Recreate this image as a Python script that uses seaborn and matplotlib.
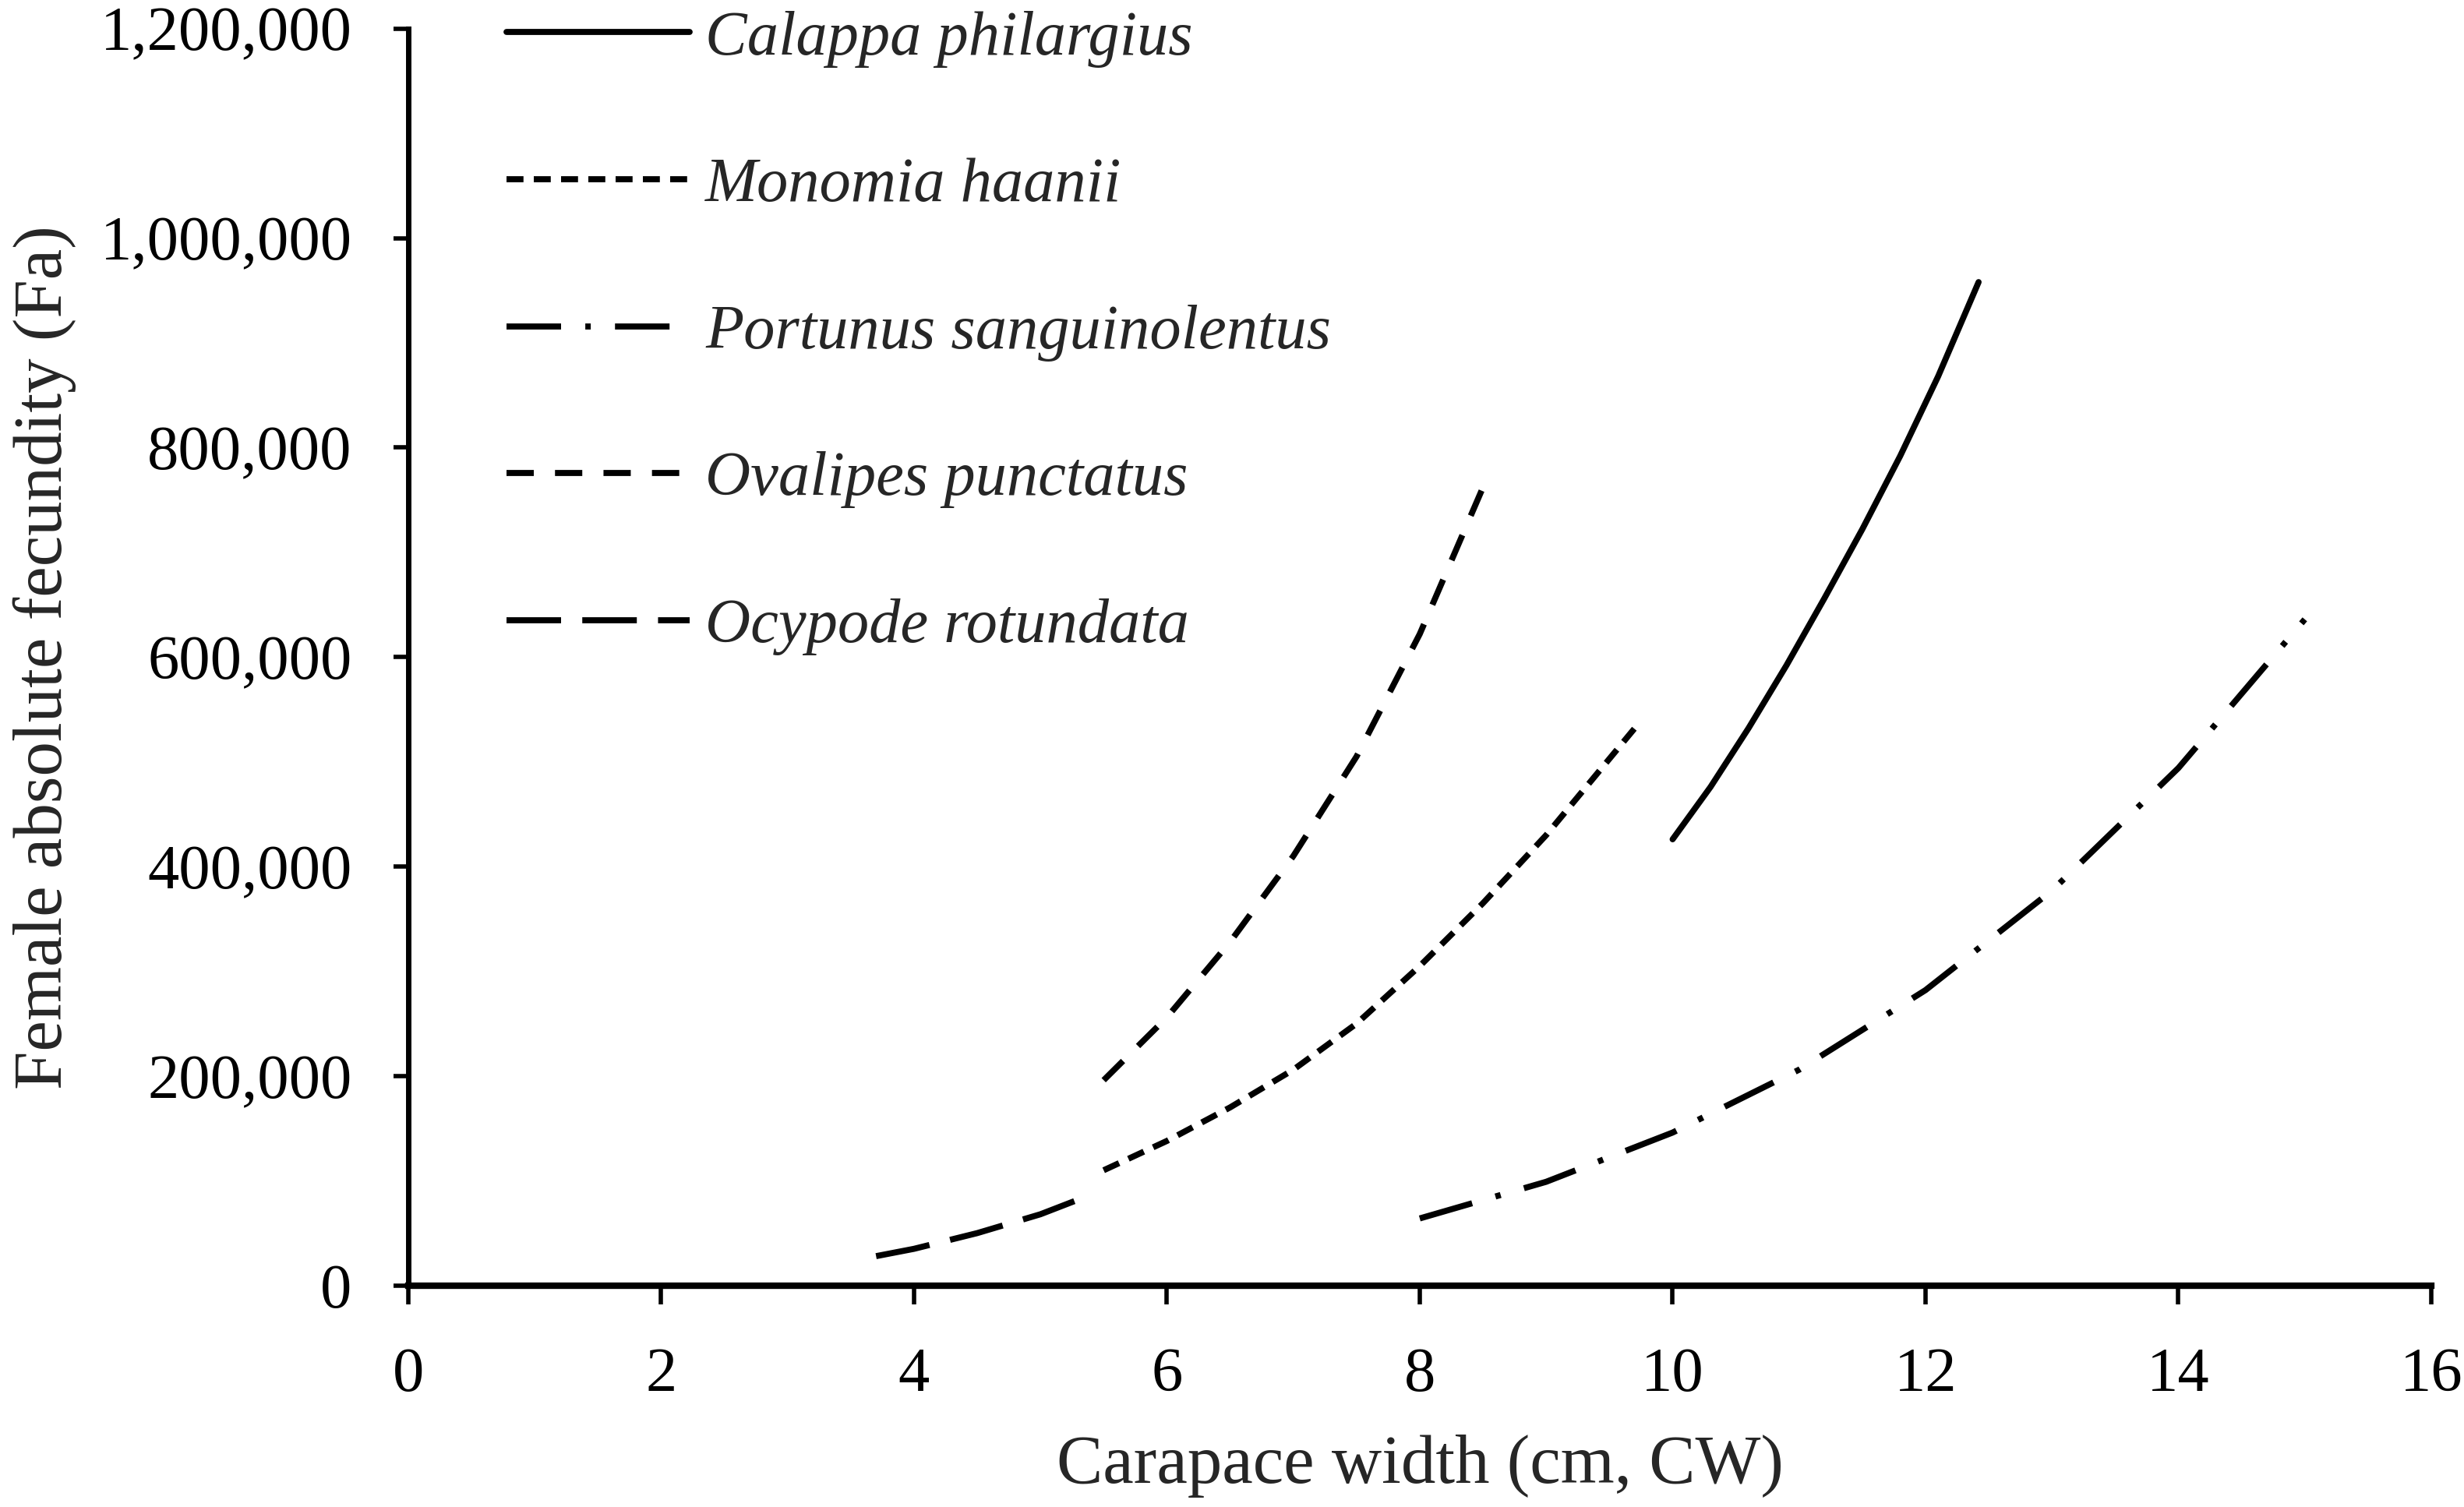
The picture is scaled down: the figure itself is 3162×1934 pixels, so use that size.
import pandas as pd
import matplotlib
matplotlib.use("Agg")
import matplotlib.pyplot as plt
import matplotlib.ticker as mticker
import seaborn as sns

# values (CW in cm, fecundity in eggs)
calappa_cw = [10.0, 10.3, 10.6, 10.9, 11.2, 11.5, 11.8, 12.1, 12.42]
calappa_fa = [426000, 476000, 532000, 592000, 656000, 722000, 792000, 868000, 958000]

monomia_cw = [5.5, 6.0, 6.5, 7.0, 7.5, 8.0, 8.5, 9.0, 9.7]
monomia_fa = [110000, 138000, 170000, 206000, 250000, 305000, 365000, 430000, 532000]

portunus_cw = [8.0, 9.0, 10.0, 11.0, 12.0, 13.0, 14.0, 15.0]
portunus_fa = [64000, 99000, 146000, 206000, 282000, 377000, 494000, 636000]

ovalipes_cw = [5.5, 6.0, 6.5, 7.0, 7.5, 8.0, 8.5]
ovalipes_fa = [196000, 256000, 328000, 410000, 505000, 622000, 762000]

ocypode_cw = [3.7, 4.0, 4.5, 5.0, 5.3]
ocypode_fa = [28000, 35000, 50000, 68000, 82000]

species = ["Calappa philargius", "Monomia haanii", "Portunus sanguinolentus",
           "Ovalipes punctatus", "Ocypode rotundata"]

frames = []
for name, cw, fa in zip(species,
                        [calappa_cw, monomia_cw, portunus_cw, ovalipes_cw, ocypode_cw],
                        [calappa_fa, monomia_fa, portunus_fa, ovalipes_fa, ocypode_fa]):
    frames.append(pd.DataFrame({"cw": cw, "fa": fa, "species": name}))
df = pd.concat(frames, ignore_index=True)

sns.set_style("white")
plt.rcParams['font.family'] = ['Liberation Serif', 'DejaVu Serif']

LW = 2.8
dash_map = {
    "Calappa philargius": "",
    "Monomia haanii": (2.8, 1.7),
    "Portunus sanguinolentus": (9.0, 4.0, 0.9, 4.0),
    "Ovalipes punctatus": (4.5, 3.5),
    "Ocypode rotundata": (9.0, 3.5),
}

fig = plt.figure(figsize=(15.81, 9.67), dpi=200)
ax = fig.add_axes([0.1657, 0.147, 0.8210, 0.834])

sns.lineplot(data=df, x="cw", y="fa", hue="species", style="species",
             hue_order=species, style_order=species,
             palette=["black"] * 5, dashes=dash_map, linewidth=LW,
             estimator=None, sort=True, ax=ax)

ax.set_xlim(0, 16)
ax.set_ylim(0, 1200000)
ax.set_xticks(range(0, 17, 2))
ax.set_yticks(range(0, 1200001, 200000))
ax.yaxis.set_major_formatter(mticker.FuncFormatter(lambda v, p: f"{int(v):,}"))

for s in ["top", "right"]:
    ax.spines[s].set_visible(False)
ax.spines["left"].set_linewidth(2.5)
ax.spines["bottom"].set_linewidth(3.0)
ax.spines["left"].set_color("black")
ax.spines["bottom"].set_color("black")

ax.tick_params(axis="x", direction="out", length=8.5, width=2.0, pad=20,
               labelsize=29, colors="black", bottom=True)
ax.tick_params(axis="y", direction="out", length=7, width=2.0, pad=19,
               labelsize=29, colors="black", left=True)

ax.set_xlabel("Carapace width (cm, CW)", fontsize=32, labelpad=14)
ax.set_ylabel("Female absolute fecundity (Fa)", fontsize=32)
ax.yaxis.set_label_coords(-0.164, 0.5)

handles, labels = ax.get_legend_handles_labels()
ax.legend(handles, labels, loc="upper left", bbox_to_anchor=(0.1928, 1.014),
          bbox_transform=fig.transFigure, frameon=False, borderpad=0,
          handlelength=2.92, handletextpad=0.25, labelspacing=1.43,
          prop={"family": "Liberation Serif", "style": "italic", "size": 29})

fig.savefig("out.png", dpi=200, facecolor="white")
